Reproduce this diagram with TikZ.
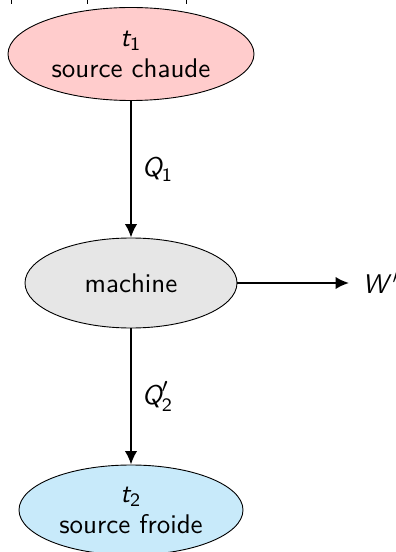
\documentclass[tikz,border=0pt]{standalone}
\usepackage{amsmath}
\usetikzlibrary{shapes.geometric,arrows.meta}
\renewcommand\familydefault{\sfdefault}
\definecolor{hotfill}{RGB}{255,204,204}
\definecolor{machfill}{RGB}{230,230,230}
\definecolor{coldfill}{RGB}{200,234,250}
\tikzset{
  blob/.style={ellipse, draw=black, line width=0.36pt, align=center,
    font=\fontsize{10.8}{12.4}\selectfont\sffamily, inner sep=0pt},
  flow/.style={line width=0.8pt, -{Latex[length=5.4pt, width=5pt]}},
  lbl/.style={anchor=west, inner sep=0pt, font=\fontsize{10.8}{13}\selectfont\sffamily},
}
\begin{document}
\begin{tikzpicture}[x=0.4pt, y=-0.4pt]
\useasboundingbox (0,0) rectangle (395,552);
\draw[line width=0.32pt] (11,0) -- (11,4) (87,0) -- (87,4) (186,0) -- (186,4);
\node[blob, fill=hotfill, minimum width=98.4pt, minimum height=37.2pt] (hot) at (131,54) {$\textit{t}_{\text{1}}$\\source chaude};
\node[blob, fill=machfill, minimum width=84.8pt, minimum height=36pt] (mach) at (131,283) {machine};
\node[blob, fill=coldfill, minimum width=89.6pt, minimum height=36pt] (cold) at (131,510) {$\textit{t}_{\text{2}}$\\source froide};
\coordinate (wend) at (349,283);
\draw[flow] (hot) -- (mach) node[lbl, pos=0.5, xshift=4pt] (q1) {$\textit{Q}_{\text{1}}$};
\draw[flow] (mach) -- (cold) node[lbl, pos=0.5, xshift=4pt] (q2) {$\textit{Q}'_{\text{2}}$};
\draw[flow] (mach) -- (wend);
\node[lbl] (w) at (362,283) {$\textit{W}\,'$};
\end{tikzpicture}
\end{document}
